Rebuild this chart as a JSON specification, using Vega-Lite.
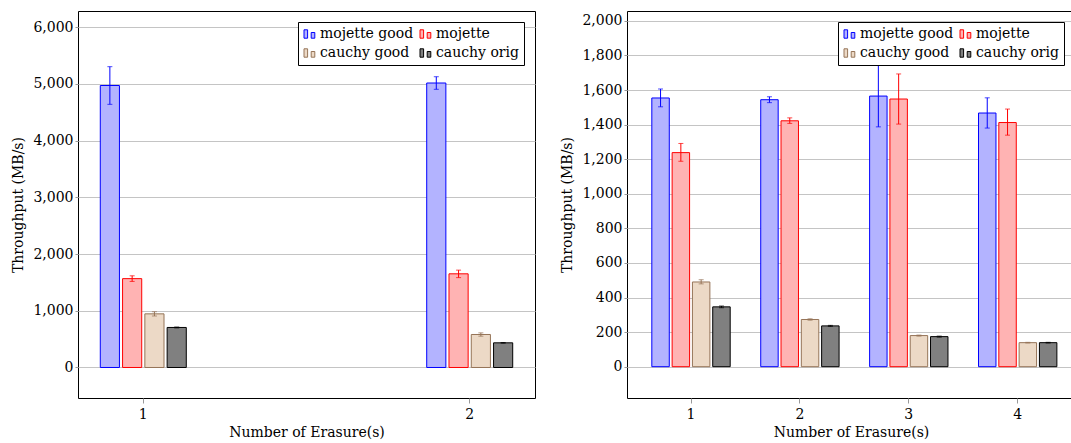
{
  "$schema": "https://vega.github.io/schema/vega-lite/v6.json",
  "padding": {"left": 11, "top": 10, "right": 0, "bottom": 0},
  "background": "white",
  "datasets": {
    "left": [
      {"n": "1", "s": "mojette good", "v": 4973, "lo": 4641, "hi": 5305},
      {"n": "1", "s": "mojette", "v": 1567, "lo": 1518, "hi": 1617},
      {"n": "1", "s": "cauchy good", "v": 946, "lo": 908, "hi": 984},
      {"n": "1", "s": "cauchy orig", "v": 706, "lo": 698, "hi": 714},
      {"n": "2", "s": "mojette good", "v": 5017, "lo": 4906, "hi": 5128},
      {"n": "2", "s": "mojette", "v": 1652, "lo": 1585, "hi": 1717},
      {"n": "2", "s": "cauchy good", "v": 582, "lo": 552, "hi": 611},
      {"n": "2", "s": "cauchy orig", "v": 435, "lo": 429, "hi": 441}
    ],
    "right": [
      {"n": "1", "s": "mojette good", "v": 1554, "lo": 1503, "hi": 1606},
      {"n": "1", "s": "mojette", "v": 1238, "lo": 1188, "hi": 1291},
      {"n": "1", "s": "cauchy good", "v": 490, "lo": 479, "hi": 503},
      {"n": "1", "s": "cauchy orig", "v": 346, "lo": 341, "hi": 351},
      {"n": "2", "s": "mojette good", "v": 1544, "lo": 1527, "hi": 1561},
      {"n": "2", "s": "mojette", "v": 1422, "lo": 1407, "hi": 1439},
      {"n": "2", "s": "cauchy good", "v": 273, "lo": 269, "hi": 277},
      {"n": "2", "s": "cauchy orig", "v": 236, "lo": 233, "hi": 239},
      {"n": "3", "s": "mojette good", "v": 1565, "lo": 1387, "hi": 1743},
      {"n": "3", "s": "mojette", "v": 1548, "lo": 1403, "hi": 1693},
      {"n": "3", "s": "cauchy good", "v": 180, "lo": 177, "hi": 183},
      {"n": "3", "s": "cauchy orig", "v": 174, "lo": 171, "hi": 177},
      {"n": "4", "s": "mojette good", "v": 1467, "lo": 1380, "hi": 1555},
      {"n": "4", "s": "mojette", "v": 1412, "lo": 1339, "hi": 1490},
      {"n": "4", "s": "cauchy good", "v": 139, "lo": 137, "hi": 141},
      {"n": "4", "s": "cauchy orig", "v": 139, "lo": 137, "hi": 141}
    ]
  },
  "hconcat": [
    {
      "width": 457,
      "height": 387,
      "data": {"name": "left"},
      "encoding": {
        "x": {"field": "n", "type": "nominal", "title": "Number of Erasure(s)", "scale": {"paddingInner": 0.6, "paddingOuter": 0}},
        "xOffset": {"field": "s", "type": "nominal", "scale": {"domain": ["mojette good", "mojette", "cauchy good", "cauchy orig"], "paddingInner": 0.14, "paddingOuter": 1.285}}
      },
      "layer": [
        {
          "mark": {"type": "bar", "strokeWidth": 1},
          "encoding": {
            "y": {"field": "v", "type": "quantitative", "title": "Throughput (MB/s)", "scale": {"domain": [-538, 6287], "nice": false, "zero": false}, "axis": {"values": [0, 1000, 2000, 3000, 4000, 5000, 6000], "format": ",d"}},
            "fill": {"field": "s", "type": "nominal", "scale": {"domain": ["mojette good", "cauchy good", "mojette", "cauchy orig"], "range": ["#b3b3ff", "#ecd9c6", "#ffb3b3", "#808080"]}, "legend": {"title": null}},
            "stroke": {"field": "s", "type": "nominal", "scale": {"domain": ["mojette good", "cauchy good", "mojette", "cauchy orig"], "range": ["#0000ff", "#957458", "#ff0000", "#000000"]}, "legend": {"title": null}}
          }
        },
        {
          "mark": {"type": "rule", "strokeWidth": 1},
          "encoding": {
            "y": {"field": "lo", "type": "quantitative", "title": "Throughput (MB/s)", "axis": {"values": [0, 1000, 2000, 3000, 4000, 5000, 6000], "format": ",d"}},
            "y2": {"field": "hi"},
            "stroke": {"field": "s", "type": "nominal", "legend": null}
          }
        },
        {
          "mark": {"type": "tick", "thickness": 1, "size": 5},
          "encoding": {
            "y": {"field": "lo", "type": "quantitative", "title": "Throughput (MB/s)", "axis": {"values": [0, 1000, 2000, 3000, 4000, 5000, 6000], "format": ",d"}},
            "color": {"field": "s", "type": "nominal", "scale": {"domain": ["mojette good", "cauchy good", "mojette", "cauchy orig"], "range": ["#0000ff", "#957458", "#ff0000", "#000000"]}, "legend": null}
          }
        },
        {
          "mark": {"type": "tick", "thickness": 1, "size": 5},
          "encoding": {
            "y": {"field": "hi", "type": "quantitative", "title": "Throughput (MB/s)", "axis": {"values": [0, 1000, 2000, 3000, 4000, 5000, 6000], "format": ",d"}},
            "color": {"field": "s", "type": "nominal", "legend": null}
          }
        }
      ]
    },
    {
      "width": 448,
      "height": 387,
      "data": {"name": "right"},
      "encoding": {
        "x": {"field": "n", "type": "nominal", "title": "Number of Erasure(s)", "scale": {"paddingInner": 0, "paddingOuter": 0.057, "align": 0.77}},
        "xOffset": {"field": "s", "type": "nominal", "scale": {"domain": ["mojette good", "mojette", "cauchy good", "cauchy orig"], "paddingInner": 0.14, "paddingOuter": 0.752}}
      },
      "layer": [
        {
          "mark": {"type": "bar", "strokeWidth": 1},
          "encoding": {
            "y": {"field": "v", "type": "quantitative", "title": "Throughput (MB/s)", "scale": {"domain": [-181, 2057], "nice": false, "zero": false}, "axis": {"values": [0, 200, 400, 600, 800, 1000, 1200, 1400, 1600, 1800, 2000], "format": ",d"}},
            "fill": {"field": "s", "type": "nominal", "scale": {"domain": ["mojette good", "cauchy good", "mojette", "cauchy orig"], "range": ["#b3b3ff", "#ecd9c6", "#ffb3b3", "#808080"]}, "legend": {"title": null}},
            "stroke": {"field": "s", "type": "nominal", "scale": {"domain": ["mojette good", "cauchy good", "mojette", "cauchy orig"], "range": ["#0000ff", "#957458", "#ff0000", "#000000"]}, "legend": {"title": null}}
          }
        },
        {
          "mark": {"type": "rule", "strokeWidth": 1},
          "encoding": {
            "y": {"field": "lo", "type": "quantitative", "title": "Throughput (MB/s)", "axis": {"values": [0, 200, 400, 600, 800, 1000, 1200, 1400, 1600, 1800, 2000], "format": ",d"}},
            "y2": {"field": "hi"},
            "stroke": {"field": "s", "type": "nominal", "legend": null}
          }
        },
        {
          "mark": {"type": "tick", "thickness": 1, "size": 5},
          "encoding": {
            "y": {"field": "lo", "type": "quantitative", "title": "Throughput (MB/s)", "axis": {"values": [0, 200, 400, 600, 800, 1000, 1200, 1400, 1600, 1800, 2000], "format": ",d"}},
            "color": {"field": "s", "type": "nominal", "scale": {"domain": ["mojette good", "cauchy good", "mojette", "cauchy orig"], "range": ["#0000ff", "#957458", "#ff0000", "#000000"]}, "legend": null}
          }
        },
        {
          "mark": {"type": "tick", "thickness": 1, "size": 5},
          "encoding": {
            "y": {"field": "hi", "type": "quantitative", "title": "Throughput (MB/s)", "axis": {"values": [0, 200, 400, 600, 800, 1000, 1200, 1400, 1600, 1800, 2000], "format": ",d"}},
            "color": {"field": "s", "type": "nominal", "legend": null}
          }
        }
      ]
    }
  ],
  "spacing": 24,
  "resolve": {
    "scale": {"x": "independent", "y": "independent", "xOffset": "independent", "fill": "independent", "stroke": "independent", "color": "independent"},
    "legend": {"fill": "independent", "stroke": "independent"}
  },
  "config": {
    "font": "DejaVu Serif",
    "view": {"stroke": "#000000", "strokeWidth": 1},
    "axis": {
      "labelFont": "DejaVu Serif", "labelFontSize": 14, "labelColor": "#000000",
      "titleFont": "DejaVu Serif", "titleFontSize": 14, "titleFontWeight": "normal", "titleColor": "#000000",
      "tickColor": "#999999", "domain": false
    },
    "axisY": {"grid": true, "gridColor": "#c4c4c4", "gridWidth": 1, "tickSize": 3, "labelPadding": 2, "titlePadding": 7, "labelOverlap": false},
    "axisX": {"grid": false, "tickSize": 5, "labelPadding": 4, "titlePadding": 4, "labelAngle": 0},
    "legend": {
      "orient": "top-right", "offset": 11, "columns": 2,
      "strokeColor": "#000000", "fillColor": "#ffffff", "padding": 5,
      "labelFont": "DejaVu Serif", "labelFontSize": 14, "labelColor": "#000000",
      "symbolType": "M-1,-0.7H-0.4V0.7H-1Z M0.2,-0.25H0.8V0.7H0.2Z",
      "symbolSize": 144, "symbolStrokeWidth": 1,
      "rowPadding": 5, "columnPadding": 4, "labelOffset": 3
    }
  }
}
